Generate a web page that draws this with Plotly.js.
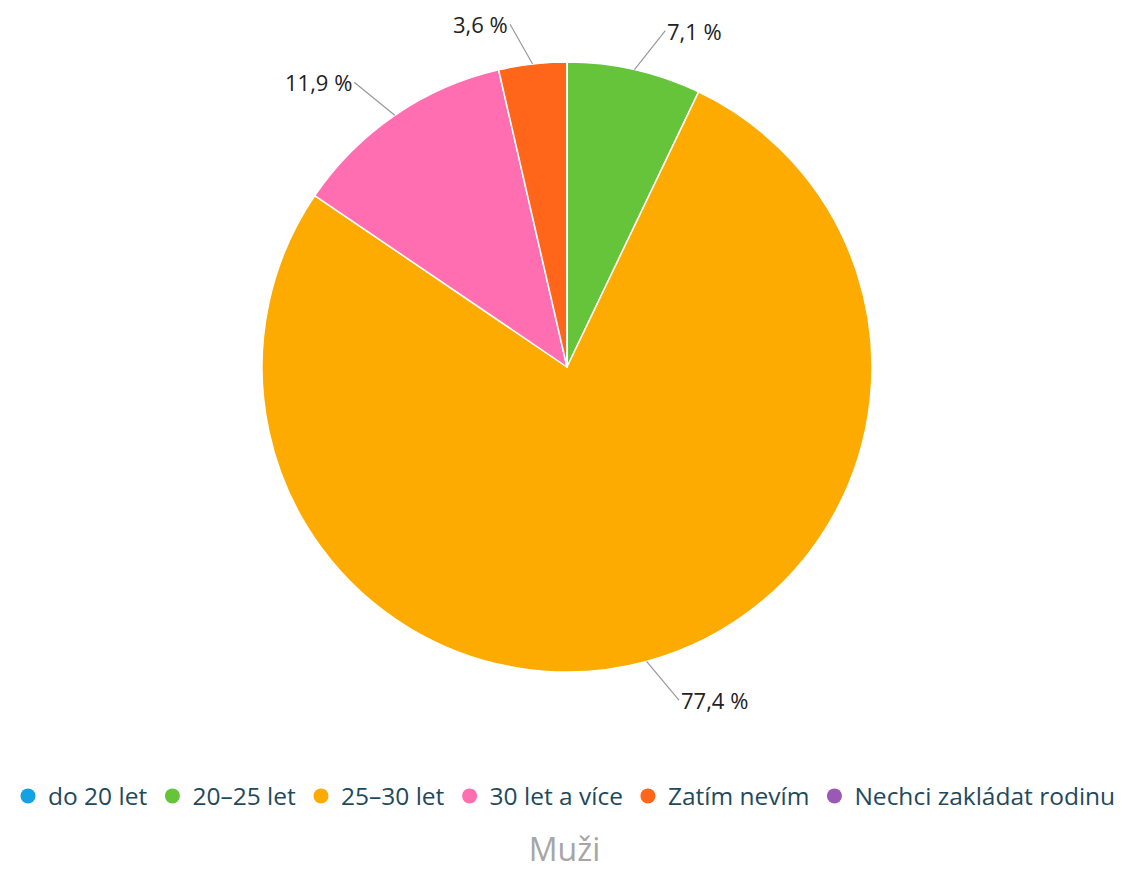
<!DOCTYPE html>
<html>
<head>
<meta charset="utf-8">
<script src="https://cdn.plot.ly/plotly-3.0.1.min.js"></script>
<style>html,body{margin:0;padding:0;background:#fff;}#chart{width:1129px;height:870px;}</style>
</head>
<body>
<div id="chart"></div>
<script>
const categories = ["do 20 let", "20–25 let", "25–30 let", "30 let a více", "Zatím nevím", "Nechci zakládat rodinu"];
const values = [0, 7.1, 77.4, 11.9, 3.6, 0];
const colors = ["#13a3e3", "#66c43b", "#fdab00", "#ff6eb0", "#ff661a", "#9b59b6"];
const chartTitle = "Muži";

const W = 1129, H = 870;
// pie domain in pixels (layout choice)
const cx = 567, cy = 367, R = 305;
const domX = [(cx - R) / W, (cx + R) / W];
const domY = [1 - (cy + R) / H, 1 - (cy - R) / H];

const fmt = v => v.toFixed(1).replace('.', ',') + ' %';

const traces = [{
  type: 'pie',
  labels: categories,
  values: values,
  sort: false,
  direction: 'clockwise',
  rotation: 0,
  marker: {colors: colors, line: {color: '#ffffff', width: 1.5}},
  textinfo: 'none',
  hoverinfo: 'label+percent',
  showlegend: false,
  domain: {x: domX, y: domY}
}];

categories.forEach((c, i) => {
  traces.push({
    type: 'scatter', mode: 'markers', x: [null], y: [null], name: c,
    marker: {symbol: 'circle', size: 15, color: colors[i]},
    showlegend: true, hoverinfo: 'skip'
  });
});

// labels with connector lines, placed from slice mid-angles
const total = values.reduce((a, b) => a + b, 0);
const annotations = [];
let cum = 0;
values.forEach((v, i) => {
  if (v > 0) {
    const mid = (cum + v / 2) / total * 2 * Math.PI;
    const s = Math.sin(mid), co = Math.cos(mid);
    const px = cx + R * s, py = cy - R * co;
    const right = s >= 0;
    annotations.push({
      xref: 'paper', yref: 'paper',
      x: px / W, y: 1 - py / H,
      ax: 40 * s + (right ? 22 : -18), ay: -40 * co,
      axref: 'pixel', ayref: 'pixel',
      text: fmt(v / total * 100),
      showarrow: true, arrowhead: 0, arrowwidth: 1.2, arrowcolor: '#999999',
      xanchor: right ? 'left' : 'right', yanchor: 'middle',
      standoff: 0, startstandoff: 0,
      font: {family: '"Open Sans", sans-serif', size: 22, color: '#222222'}
    });
  }
  cum += v;
});

const layout = {
  width: W, height: H,
  margin: {l: 0, r: 0, t: 0, b: 0},
  paper_bgcolor: '#ffffff', plot_bgcolor: '#ffffff',
  xaxis: {visible: false, domain: [0, 0.01]},
  yaxis: {visible: false, domain: [0, 0.01]},
  showlegend: true,
  legend: {
    orientation: 'h', x: 0.5, xanchor: 'center', y: 1 - 796 / H, yanchor: 'middle',
    font: {family: '"Open Sans", sans-serif', size: 24.5, color: '#1f4a5c'},
    traceorder: 'normal', itemwidth: 30
  },
  title: {
    text: chartTitle, x: 0.5, xanchor: 'center', y: 1 - 850 / H, yanchor: 'middle',
    font: {family: '"Open Sans", sans-serif', size: 32, color: '#a6a6a6'}
  },
  annotations: annotations
};

Plotly.newPlot('chart', traces, layout, {displayModeBar: false, staticPlot: true});
</script>
</body>
</html>
